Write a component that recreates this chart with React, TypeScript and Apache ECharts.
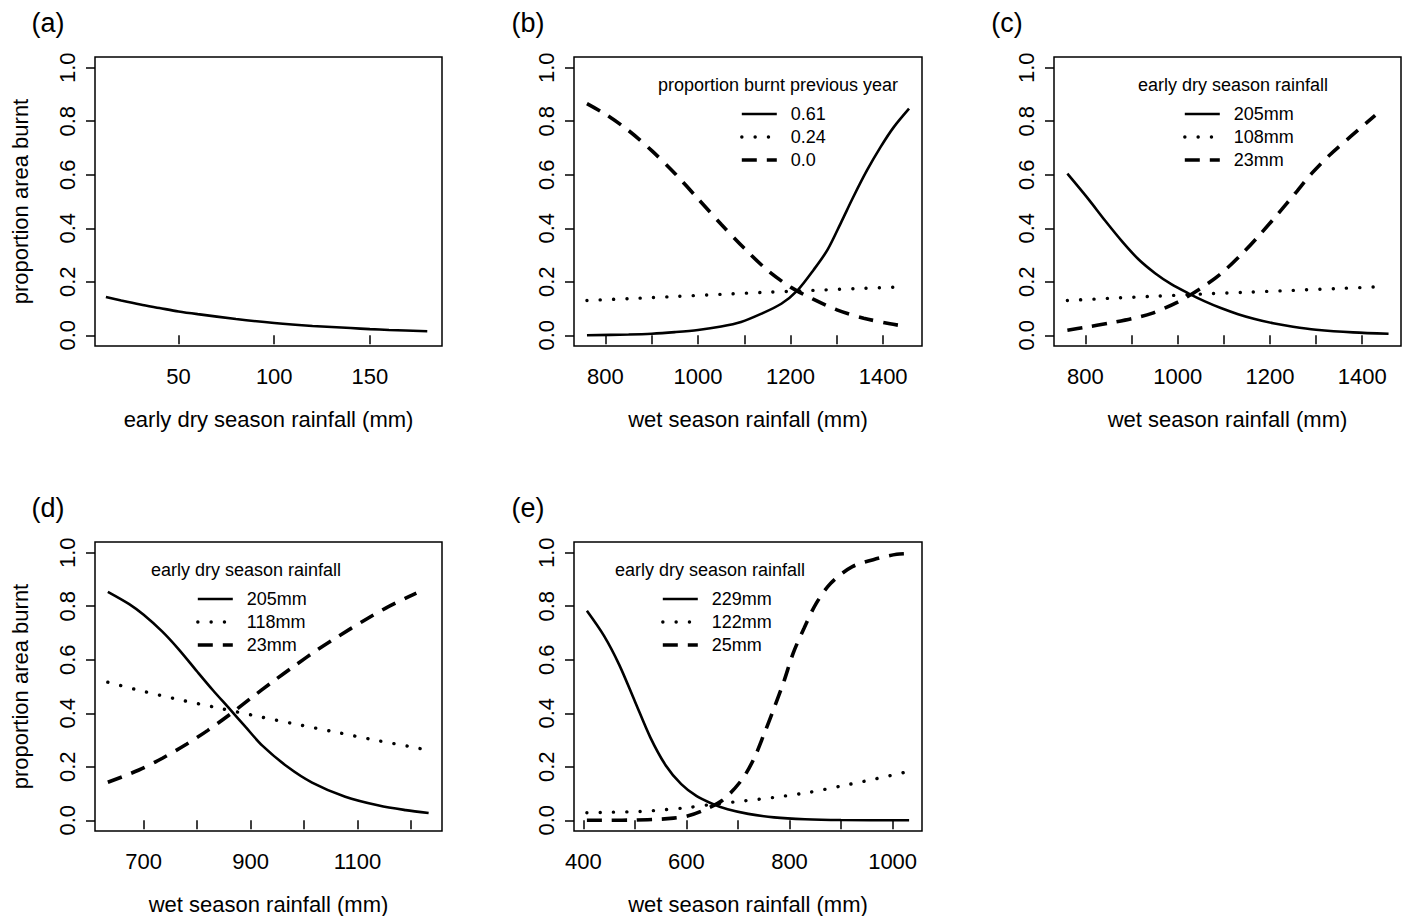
import React, { useEffect, useRef } from "react";
import * as echarts from "echarts";

// ---------- data ----------
const yTicks = [0, 0.2, 0.4, 0.6, 0.8, 1.0];

// (a)
const aTicks = [50, 100, 150];
const aX = [12, 20, 30, 40, 50, 60, 80, 100, 120, 140, 150, 160, 180];
const aY = [0.143, 0.130, 0.115, 0.102, 0.089, 0.079, 0.061, 0.046, 0.035, 0.027, 0.023, 0.020, 0.015];

// (b)
const bTicks = [800, 900, 1000, 1100, 1200, 1300, 1400];
const bLabels = [800, 1000, 1200, 1400];
const b061X = [760, 850, 900, 950, 1000, 1050, 1093, 1136, 1180, 1215, 1250, 1280, 1310, 1335, 1365, 1395, 1423, 1456];
const b061Y = [0.000, 0.003, 0.006, 0.012, 0.020, 0.033, 0.050, 0.080, 0.118, 0.168, 0.245, 0.320, 0.425, 0.515, 0.616, 0.705, 0.778, 0.847];
const b024X = [760, 850, 950, 1050, 1150, 1250, 1350, 1440];
const b024Y = [0.130, 0.137, 0.145, 0.153, 0.161, 0.168, 0.175, 0.181];
const b000X = [760, 800, 850, 900, 950, 1000, 1050, 1100, 1150, 1200, 1250, 1300, 1358, 1415, 1440];
const b000Y = [0.866, 0.826, 0.765, 0.690, 0.605, 0.510, 0.415, 0.325, 0.243, 0.180, 0.134, 0.095, 0.064, 0.043, 0.036];

// (c)
const c205X = [761, 807, 843, 879, 915, 951, 987, 1023, 1059, 1095, 1131, 1167, 1207, 1250, 1300, 1380, 1457];
const c205Y = [0.604, 0.508, 0.428, 0.352, 0.284, 0.232, 0.190, 0.157, 0.127, 0.101, 0.079, 0.061, 0.045, 0.032, 0.021, 0.011, 0.006];
const c108X = [761, 850, 950, 1050, 1150, 1250, 1350, 1432];
const c108Y = [0.130, 0.138, 0.146, 0.154, 0.161, 0.168, 0.175, 0.181];
const c23X = [761, 800, 850, 900, 944, 1000, 1050, 1095, 1138, 1178, 1218, 1254, 1290, 1329, 1375, 1428];
const c23Y = [0.019, 0.030, 0.045, 0.062, 0.082, 0.124, 0.175, 0.232, 0.302, 0.376, 0.455, 0.529, 0.604, 0.673, 0.743, 0.822];

// (d)
const dTicks = [700, 800, 900, 1000, 1100, 1200];
const dLabels = [700, 900, 1100];
const d205X = [633, 673, 700, 735, 766, 800, 830, 860, 891, 922, 969, 1015, 1077, 1140, 1190, 1233];
const d205Y = [0.854, 0.808, 0.768, 0.705, 0.638, 0.556, 0.485, 0.418, 0.348, 0.279, 0.200, 0.141, 0.088, 0.055, 0.038, 0.027];
const d118X = [633, 683, 757, 832, 903, 978, 1053, 1127, 1202, 1227];
const d118Y = [0.516, 0.490, 0.455, 0.423, 0.393, 0.362, 0.332, 0.302, 0.274, 0.264];
const d23X = [633, 690, 735, 780, 820, 863, 901, 942, 984, 1025, 1066, 1110, 1152, 1197, 1210];
const d23Y = [0.142, 0.187, 0.232, 0.284, 0.336, 0.398, 0.457, 0.519, 0.580, 0.637, 0.690, 0.744, 0.792, 0.837, 0.849];

// (e)
const eTicks = [400, 500, 600, 700, 800, 900, 1000];
const eLabels = [400, 600, 800, 1000];
const e229X = [407, 440, 470, 500, 530, 560, 590, 620, 650, 680, 720, 770, 830, 900, 1032];
const e229Y = [0.783, 0.690, 0.580, 0.445, 0.310, 0.205, 0.135, 0.090, 0.062, 0.041, 0.024, 0.011, 0.004, 0.001, 0.000];
const e122X = [407, 450, 510, 560, 600, 640, 700, 772, 840, 900, 960, 1030];
const e122Y = [0.028, 0.030, 0.033, 0.040, 0.047, 0.057, 0.070, 0.086, 0.105, 0.128, 0.152, 0.182];
const e25X = [407, 450, 500, 550, 575, 600, 630, 670, 707, 731, 750, 770, 789, 807, 828, 851, 880, 922, 972, 1008, 1032];
const e25Y = [0.000, 0.000, 0.001, 0.004, 0.008, 0.015, 0.035, 0.075, 0.150, 0.230, 0.319, 0.419, 0.518, 0.624, 0.717, 0.808, 0.886, 0.948, 0.979, 0.994, 0.997];

const yName = "proportion area burnt";
const xNameDry = "early dry season rainfall (mm)";
const xNameWet = "wet season rainfall (mm)";
const legendTitleB = "proportion burnt previous year";
const legendTitleDry = "early dry season rainfall";

// ---------- styles ----------
const FONT = '"Liberation Sans", Arial, Helvetica, sans-serif';
const SOLID = { color: "#000", width: 2.6, type: "solid" as const };
const DOTTED = { color: "#000", width: 3.4, type: [0.1, 13.2], cap: "round" as const };
const DASHED = { color: "#000", width: 3.6, type: [15, 10], cap: "butt" as const };

const zip = (xs: number[], ys: number[]) => xs.map((x, i) => [x, ys[i]]);

export default function App() {
  const ref = useRef<HTMLDivElement>(null);
  useEffect(() => {
    if (!ref.current) return;
    const chart = echarts.init(ref.current, undefined, { renderer: "svg" });

    const grids = [
      { left: 95, top: 57, width: 347, height: 289 },
      { left: 574, top: 57, width: 348, height: 289 },
      { left: 1054, top: 57, width: 347, height: 289 },
      { left: 95, top: 542, width: 347, height: 289 },
      { left: 574, top: 542, width: 348, height: 289 },
    ];

    const panels = [
      { xMin: 6.3, xMax: 187.7, ticks: aTicks, labels: aTicks, xName: xNameDry, yName: true },
      { xMin: 732, xMax: 1484, ticks: bTicks, labels: bLabels, xName: xNameWet, yName: false },
      { xMin: 732, xMax: 1484, ticks: bTicks, labels: bLabels, xName: xNameWet, yName: false },
      { xMin: 609, xMax: 1258, ticks: dTicks, labels: dLabels, xName: xNameWet, yName: true },
      { xMin: 382, xMax: 1057, ticks: eTicks, labels: eLabels, xName: xNameWet, yName: false },
    ];

    const xAxis = panels.map((p, i) => ({
      type: "value",
      gridIndex: i,
      min: p.xMin,
      max: p.xMax,
      axisLine: { show: false },
      splitLine: { show: false },
      axisTick: { show: true, length: 9, customValues: p.ticks, lineStyle: { color: "#000", width: 1.5 } },
      axisLabel: {
        customValues: p.labels,
        margin: 19,
        color: "#000",
        fontSize: 22,
        fontFamily: FONT,
        formatter: (v: number) => String(v),
      },
      name: p.xName,
      nameLocation: "middle",
      nameGap: 62,
      nameTextStyle: { color: "#000", fontSize: 22, fontFamily: FONT },
    }));

    const yAxis = panels.map((p, i) => ({
      type: "value",
      gridIndex: i,
      min: -0.04,
      max: 1.04,
      axisLine: { show: false },
      splitLine: { show: false },
      axisTick: { show: true, length: 9, customValues: yTicks, lineStyle: { color: "#000", width: 1.5 } },
      axisLabel: {
        customValues: yTicks,
        rotate: 90,
        margin: 17,
        color: "#000",
        fontSize: 22,
        fontFamily: FONT,
        formatter: (v: number) => v.toFixed(1),
      },
      name: p.yName ? yName : "",
      nameLocation: "middle",
      nameGap: 64,
      nameTextStyle: { color: "#000", fontSize: 22, fontFamily: FONT },
    }));

    const mk = (name: string, i: number, xs: number[], ys: number[], ls: any) => ({
      type: "line",
      name,
      xAxisIndex: i,
      yAxisIndex: i,
      data: zip(xs, ys),
      symbol: "none",
      showSymbol: false,
      smooth: 0.3,
      lineStyle: ls,
      itemStyle: { color: "#000" },
      silent: true,
    });

    const series = [
      mk("a", 0, aX, aY, SOLID),
      mk("0.61", 1, b061X, b061Y, SOLID),
      mk("0.24", 1, b024X, b024Y, DOTTED),
      mk("0.0", 1, b000X, b000Y, DASHED),
      mk("205mm", 2, c205X, c205Y, SOLID),
      mk("108mm", 2, c108X, c108Y, DOTTED),
      mk("23mm", 2, c23X, c23Y, DASHED),
      mk("205mm ", 3, d205X, d205Y, SOLID),
      mk("118mm", 3, d118X, d118Y, DOTTED),
      mk("23mm ", 3, d23X, d23Y, DASHED),
      mk("229mm", 4, e229X, e229Y, SOLID),
      mk("122mm", 4, e122X, e122Y, DOTTED),
      mk("25mm", 4, e25X, e25Y, DASHED),
    ];

    const legendBase = {
      orient: "vertical",
      padding: 0,
      itemWidth: 35,
      itemHeight: 14,
      itemGap: 5,
      selectedMode: false,
      itemStyle: { opacity: 0 },
      textStyle: { color: "#000", fontSize: 18, fontFamily: FONT, lineHeight: 18, padding: [0, 0, 0, 9] },
      formatter: (n: string) => n.trim(),
    };
    const items = (names: string[]) => [
      { name: names[0], lineStyle: SOLID },
      { name: names[1], lineStyle: DOTTED },
      { name: names[2], lineStyle: DASHED },
    ];
    const legend = [
      { ...legendBase, left: 740, top: 105, data: items(["0.61", "0.24", "0.0"]) },
      { ...legendBase, left: 1183, top: 105, data: items(["205mm", "108mm", "23mm"]) },
      { ...legendBase, left: 196, top: 590, data: items(["205mm ", "118mm", "23mm "]) },
      { ...legendBase, left: 661, top: 590, data: items(["229mm", "122mm", "25mm"]) },
    ];

    const txt = (text: string, x: number, y: number, size: number) => ({
      type: "text",
      x,
      y,
      silent: true,
      style: { text, fill: "#000", font: `${size}px ${FONT}`, align: "center", verticalAlign: "middle" },
    });

    const graphic = [
      txt("(a)", 48, 23, 27),
      txt("(b)", 528, 23, 27),
      txt("(c)", 1007, 23, 27),
      txt("(d)", 48, 508, 27),
      txt("(e)", 528, 508, 27),
      txt(legendTitleB, 778, 85, 18),
      txt(legendTitleDry, 1233, 85, 18),
      txt(legendTitleDry, 246, 570, 18),
      txt(legendTitleDry, 710, 570, 18),
    ];

    chart.setOption({
      animation: false,
      backgroundColor: "#fff",
      textStyle: { fontFamily: FONT },
      grid: grids.map((g) => ({ ...g, show: true, borderColor: "#000", borderWidth: 1.5, backgroundColor: "transparent", containLabel: false })),
      xAxis,
      yAxis,
      series,
      legend,
      graphic,
    });
    return () => chart.dispose();
  }, []);
  return <div ref={ref} style={{ position: "fixed", left: 0, top: 0, width: 1405, height: 916 }} />;
}
